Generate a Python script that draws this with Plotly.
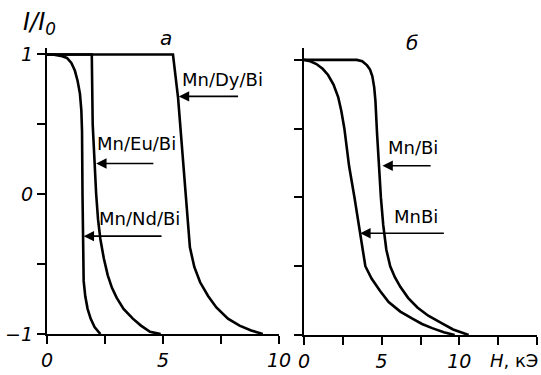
import plotly.graph_objects as go

# ---- data ----
# panel a
nd_x = [0, 0.3, 0.6, 0.86, 1.05, 1.2, 1.32, 1.42, 1.48, 1.51, 1.53, 1.55, 1.58, 1.65, 1.75, 1.88, 2.05, 2.3]
nd_y = [1, 0.998, 0.99, 0.975, 0.94, 0.885, 0.81, 0.72, 0.6, 0.45, 0.0, -0.5, -0.62, -0.73, -0.82, -0.89, -0.95, -1.0]

eu_x = [0, 1.93, 1.97, 2.05, 2.12, 2.2, 2.3, 2.45, 2.62, 2.8, 3.0, 3.3, 3.7, 4.05, 4.44, 4.9]
eu_y = [1, 1.0, 0.5, 0.2, 0.0, -0.18, -0.32, -0.46, -0.58, -0.67, -0.74, -0.82, -0.89, -0.94, -0.985, -1.0]

dy_x = [0, 5.43, 5.65, 5.95, 6.05, 6.16, 6.35, 6.6, 6.95, 7.3, 7.8, 8.3, 8.8, 9.3]
dy_y = [1, 1.0, 0.69, 0.05, -0.2, -0.38, -0.52, -0.63, -0.73, -0.81, -0.89, -0.94, -0.975, -1.0]

# panel b
mnbi_l_x = [0, 3.4, 3.75, 4.06, 4.25, 4.4, 4.52, 4.6, 4.7, 4.82, 4.95, 5.1, 5.3, 5.55, 5.85, 6.2, 6.7, 7.3, 8.0, 8.8, 9.6, 10.6]
mnbi_l_y = [1, 1.0, 0.99, 0.96, 0.93, 0.88, 0.8, 0.7, 0.47, 0.2, 0.0, -0.2, -0.38, -0.5, -0.58, -0.65, -0.73, -0.8, -0.86, -0.91, -0.96, -1.0]

mnbi_x = [0, 0.4, 0.8, 1.2, 1.55, 1.9, 2.2, 2.4, 2.6, 2.75, 2.9, 3.25, 3.6, 3.8, 3.95, 4.35, 4.9, 5.45, 6.2, 6.95, 7.6, 8.25, 9.0, 9.7]
mnbi_y = [1, 0.99, 0.97, 0.935, 0.89, 0.82, 0.73, 0.63, 0.5, 0.37, 0.23, 0.0, -0.25, -0.42, -0.5, -0.59, -0.68, -0.76, -0.83, -0.88, -0.92, -0.95, -0.98, -1.0]

y_ticks = [-1, -0.5, 0, 0.5, 1]
y_labels = ["\u22121", "", "0", "", "1"]
xa_ticks = [0, 2.5, 5, 7.5, 10]
xa_labels = ["0", "", "5", "", "10"]
xb_ticks = [0, 2.5, 5, 7.5, 10, 12.5, 15]
xb_labels = ["0", "", "5", "", "10", "", ""]

LINE = dict(color="black", width=2.6)

fig = go.Figure()
for xs, ys in [(nd_x, nd_y), (eu_x, eu_y), (dy_x, dy_y)]:
    fig.add_trace(go.Scatter(x=xs, y=ys, mode="lines", line=dict(shape="linear", **LINE),
                             xaxis="x", yaxis="y", showlegend=False, hoverinfo="skip"))
for xs, ys in [(mnbi_l_x, mnbi_l_y), (mnbi_x, mnbi_y)]:
    fig.add_trace(go.Scatter(x=xs, y=ys, mode="lines", line=dict(shape="linear", **LINE),
                             xaxis="x2", yaxis="y2", showlegend=False, hoverinfo="skip"))

tickfont = dict(family="DejaVu Sans", size=19, color="black", style="italic")
axis_common = dict(showline=True, linecolor="black", linewidth=2.4, ticks="outside",
                   ticklen=8, tickwidth=2.2, tickcolor="black", showgrid=False,
                   zeroline=False, tickfont=tickfont, fixedrange=True, automargin=False)

W, H = 541, 375
fig.update_layout(
    width=W, height=H, margin=dict(l=0, r=0, t=0, b=0, pad=0),
    paper_bgcolor="white", plot_bgcolor="white",
    xaxis=dict(domain=[47 / W, 279 / W], range=[0, 10], tickvals=xa_ticks, ticktext=xa_labels,
               anchor="y", ticklabelstandoff=0, **axis_common),
    yaxis=dict(domain=[41 / H, 327.5 / H], range=[-1, 1.05], tickvals=y_ticks, ticktext=y_labels,
               anchor="x", **axis_common),
    xaxis2=dict(domain=[304 / W, 537 / W], range=[0, 15], tickvals=xb_ticks, ticktext=xb_labels,
                anchor="y2", ticklabelstandoff=0, **axis_common),
    yaxis2=dict(domain=[40 / H, 327.5 / H], range=[-1, 1.09], tickvals=y_ticks,
                ticktext=["", "", "", "", ""], anchor="x2", **axis_common),
)

lab_font = dict(family="DejaVu Sans", size=18, color="black")
arrows = [
    # text, tx, ty, tail_x, head_x, arrow_y, xref, yref
    ("Mn/Dy/Bi", 7.55, 0.82, 8.3, 5.68, 0.70, "x", "y"),
    ("Mn/Eu/Bi", 3.85, 0.36, 4.65, 2.12, 0.22, "x", "y"),
    ("Mn/Nd/Bi", 4.0, -0.175, 5.0, 1.58, -0.30, "x", "y"),
    ("Mn/Bi", 7.0, 0.36, 8.25, 5.05, 0.23, "x2", "y2"),
    ("MnBi", 7.2, -0.135, 9.1, 3.62, -0.26, "x2", "y2"),
]
for txt, tx, ty, tail, head, ay, xr, yr in arrows:
    fig.add_annotation(x=tx, y=ty, xref=xr, yref=yr, text=txt, showarrow=False, font=lab_font)
    fig.add_annotation(x=head, y=ay, ax=tail, ay=ay, xref=xr, yref=yr, axref=xr, ayref=yr,
                       text="", showarrow=True, arrowhead=2, arrowsize=1.3, arrowwidth=1.6,
                       arrowcolor="black", standoff=0)

big_it = dict(family="DejaVu Sans", size=20, color="black", style="italic")
for txt, px, py, sz in [("\u0430", 166, 38, 20), ("\u0431", 412, 43, 20),
                        ("I/I<sub>0</sub>", 39, 23, 24)]:
    fig.add_annotation(x=px / W, y=1 - py / H, xref="paper", yref="paper", text=txt,
                       xanchor="center", yanchor="middle", showarrow=False,
                       font=dict(big_it, size=sz))
fig.add_annotation(x=540 / W, y=1 - 360 / H, xref="paper", yref="paper", xanchor="right",
                   yanchor="middle", text="<i>H</i>, кЭ", showarrow=False,
                   font=dict(family="DejaVu Sans", size=18, color="black"))

fig.write_html("out.html", config={"displayModeBar": False},
               post_script="document.body.style.margin='0';")
